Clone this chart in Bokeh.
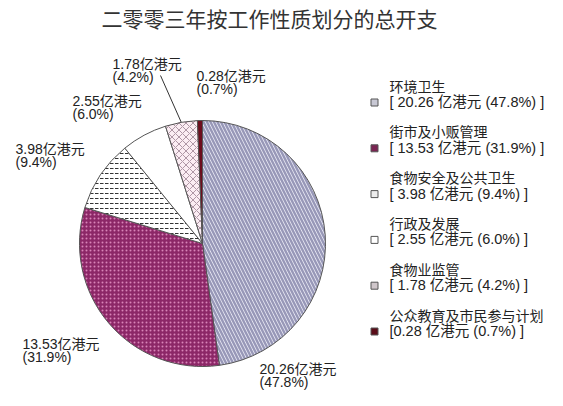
#!/usr/bin/env python3

import numpy as np
from bokeh.core.properties import value
from bokeh.embed import file_html
from bokeh.models import ColumnDataSource, Range1d
from bokeh.plotting import figure
from bokeh.resources import INLINE

# data
title = "二零零三年按工作性质划分的总开支"
categories = [
    "环境卫生",
    "街市及小贩管理",
    "食物安全及公共卫生",
    "行政及发展",
    "食物业监管",
    "公众教育及市民参与计划",
]
amounts = [20.26, 13.53, 3.98, 2.55, 1.78, 0.28]
percents = [47.8, 31.9, 9.4, 6.0, 4.2, 0.7]
unit = "亿港元"

# styles
fill_colors = ["#ededf7", "#8c2767", "#ffffff", "#ffffff", "#fbedf3", "#6d0d1d"]
hatch_patterns = ["left_diagonal_line", "dot", "horizontal_dash", "blank",
                  "diagonal_cross", "blank"]
hatch_colors = ["#9898b8", "#d884b8", "#333333", "#ffffff", "#9a8090", "#6d0d1d"]
hatch_scales = [7, 4, 5, 6, 7, 6]
hatch_weights = [2.4, 1.5, 1.0, 1.0, 0.8, 1.0]
marker_colors = ["#c8c8d4", "#7a2452", "#ececec", "#ffffff", "#cfc6ca", "#5a0c18"]
# label anchors (page pixels, left / glyph top of first line)
label_x = [259, 22, 15, 72, 112, 196]
label_y = [365, 340, 145, 97, 60, 72]
legend_open = ["[ ", "[ ", "[ ", "[ ", "[ ", "["]

W, H = 560, 402
FONT = value("Liberation Sans, Noto Sans CJK SC")


def fx(x):
    return np.asarray(x, dtype=float)


def fy(y):
    return H - np.asarray(y, dtype=float)


p = figure(
    width=W,
    height=H,
    x_range=Range1d(0, W),
    y_range=Range1d(0, H),
    min_border=0,
    toolbar_location=None,
    output_backend="svg",
    outline_line_color=None,
)
p.axis.visible = False
p.grid.visible = False

# title
p.text(x=[269.0], y=[float(fy(2))], text=[title],
       text_font=value("Noto Sans CJK SC"), text_font_size="21px",
       text_color="#333333", text_align="center", text_baseline="top")

# pie
cx, cy, r = 202.0, float(fy(243)), 123
share = np.array(amounts) / sum(amounts)
ends = np.pi / 2 - 2 * np.pi * np.cumsum(share)
starts = np.concatenate([[np.pi / 2], ends[:-1]])
src = ColumnDataSource(dict(
    start=starts, end=ends, fill=fill_colors, hatch=hatch_patterns,
    hcolor=hatch_colors, hscale=hatch_scales, hweight=hatch_weights,
))
p.wedge(x=cx, y=cy, radius=r, start_angle="start", end_angle="end",
        direction="clock", source=src, fill_color="fill", line_color="#555555",
        line_width=1, hatch_pattern="hatch", hatch_color="hcolor",
        hatch_scale="hscale", hatch_weight="hweight")

# slice labels
line1 = [f"{a:.2f}{unit}" for a in amounts]
line2 = [f"({pc}%)" for pc in percents]
top = fy(np.array(label_y) - 5)
p.text(x=fx(label_x), y=top, text=line1, text_font=FONT,
       text_font_size="14px", text_color="#222222", text_baseline="top")
p.text(x=fx(label_x), y=top - 13.5, text=line2, text_font=FONT,
       text_font_size="14px", text_color="#222222", text_baseline="top")

# leader line for the 4.2% slice
mid = (starts[4] + ends[4]) / 2
p.line(x=[160.0, cx + r * np.cos(mid)], y=[float(fy(75)), cy + r * np.sin(mid)],
       line_color="#333333", line_width=1)

# legend
n = len(categories)
ly = 84 + 45.8 * np.arange(n)
p.scatter(x=fx(np.full(n, 374)), y=fy(ly + 18), size=7, marker="square",
          fill_color=marker_colors, line_color="#555555", line_width=1)
legend_vals = [f"{o}{a:.2f} {unit} ({pc}%) ]" for o, a, pc in
               zip(legend_open, amounts, percents)]
p.text(x=fx(np.full(n, 389)), y=fy(ly - 6), text=categories, text_font=FONT,
       text_font_size="14px", text_color="#222222", text_baseline="top")
p.text(x=fx(np.full(n, 389)), y=fy(ly + 9.5), text=legend_vals, text_font=FONT,
       text_font_size="14.5px", text_color="#222222", text_baseline="top")

open("out.html", "w").write(file_html(p, INLINE))
